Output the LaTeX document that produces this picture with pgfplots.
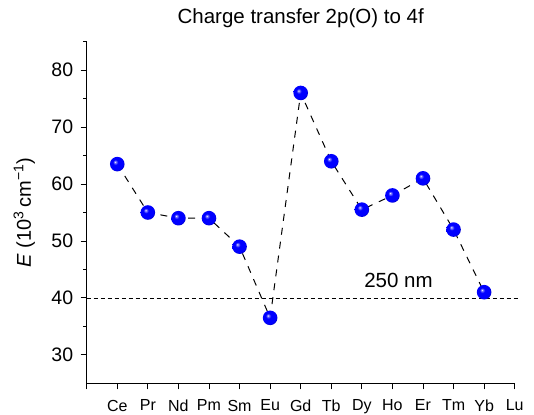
\documentclass[border=0pt]{standalone}
\usepackage{fontspec}
\setmainfont{Liberation Sans}
\usepackage{pgfplots}
\pgfplotsset{compat=1.18}
\pgfdeclareradialshading{bball}{\pgfpoint{-8bp}{8bp}}{color(0bp)=(white); color(3bp)=(white!50!blue); color(9bp)=(blue); color(24bp)=(blue); color(30bp)=(blue!65!black); color(50bp)=(blue!65!black)}
\pgfdeclareplotmark{bball}{%
  \pgfpathcircle{\pgfpointorigin}{\pgfplotmarksize}%
  \pgfshadepath{bball}{0}%
  \pgfusepath{discard}%
}
\begin{document}
\begin{tikzpicture}
\useasboundingbox (-86.7pt,-30.7pt) rectangle (447.3pt,383.3pt);
\begin{axis}[
  scale only axis, width=428pt, height=341.6pt,
  at={(0,0)}, anchor=south west,
  xmin=0, xmax=14, ymin=25, ymax=85,
  axis lines=left, axis line style={-, line width=0.9pt},
  xtick={0,...,14},
  xticklabels={,Ce,Pr,Nd,Pm,Sm,Eu,Gd,Tb,Dy,Ho,Er,Tm,Yb,Lu},
  ytick={30,40,...,80}, minor ytick={35,45,...,85},
  tick align=outside, major tick length=6pt, minor tick length=3.5pt,
  every tick/.style={black, line width=0.9pt},
  /pgf/number format/assume math mode=true,
  yticklabel style={font=\fontsize{19.5}{23}\selectfont, xshift=-4pt},
  xticklabel style={font=\fontsize{16}{19}\selectfont, yshift=-7pt},
  ylabel={\textit{E} (10\textsuperscript{3}\,cm\textsuperscript{−1})},
  ylabel style={font=\fontsize{20}{24}\selectfont, at={(axis description cs:-0.146,0.5)}, anchor=center},
  title={Charge transfer 2p(O) to 4f},
  title style={font=\fontsize{20.5}{24}\selectfont, at={(axis description cs:0.5,1)}, anchor=base, yshift=12.7pt},
  clip=false,
]
\addplot[black, line width=0.8pt, dash pattern=on 4pt off 3pt] coordinates {(0,40) (14.1,40)};
\addplot[black, line width=1pt, dash pattern=on 7pt off 7pt, mark=bball, mark size=7.3pt, mark options={solid}] coordinates {
(1,63.5) (2,55) (3,54) (4,54) (5,49) (6,36.5) (7,76) (8,64) (9,55.5) (10,58) (11,61) (12,52) (13,41)
};
\node[font=\fontsize{20.5}{24}\selectfont, anchor=center] at (axis cs:10.2,43.1) {250 nm};
\end{axis}
\end{tikzpicture}
\end{document}
